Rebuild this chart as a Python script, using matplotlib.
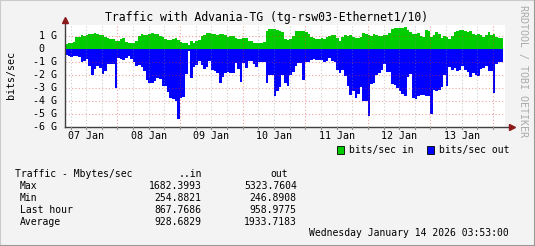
import matplotlib

matplotlib.use("Agg")
import matplotlib.pyplot as plt
import matplotlib.transforms as mtransforms
import numpy as np

# hourly samples, Gbit/s, starting 07 Jan 03:53
IN_GBPS = [
    0.36, 0.47, 0.47, 0.55, 0.95, 0.93, 1.06, 1.0, 1.05, 1.14,
    1.14, 1.25, 1.14, 1.08, 1.1, 0.93, 0.88, 0.8, 0.8, 0.62,
    0.62, 0.75, 0.85, 0.54, 0.47, 0.47, 0.47, 0.6, 1.0, 1.16,
    1.1, 1.08, 1.16, 1.24, 1.16, 1.14, 1.0, 0.93, 0.8, 0.7,
    0.7, 0.78, 0.85, 0.7, 0.54, 0.47, 0.5, 0.35, 0.62, 0.47,
    0.6, 0.7, 1.0, 1.08, 1.24, 1.24, 1.16, 1.14, 1.1, 1.16,
    1.16, 1.12, 0.93, 1.0, 1.0, 0.85, 0.78, 0.78, 0.82, 0.85,
    0.62, 0.62, 0.5, 0.47, 0.47, 0.5, 0.54, 1.4, 1.55, 1.55,
    1.55, 1.5, 1.4, 1.32, 0.78, 0.7, 0.75, 1.0, 1.4, 1.4,
    1.36, 1.4, 1.32, 1.16, 0.93, 0.85, 0.78, 0.78, 0.85, 0.78,
    0.9, 1.0, 1.08, 1.08, 0.85, 0.62, 0.93, 1.08, 1.04, 1.08,
    0.9, 0.85, 0.85, 0.95, 1.24, 1.16, 1.08, 1.0, 1.16, 1.08,
    1.0, 1.04, 1.08, 1.08, 1.24, 1.55, 1.66, 1.63, 1.63, 1.66,
    1.72, 1.5, 1.3, 1.16, 1.2, 1.25, 1.0, 0.95, 1.44, 1.4,
    0.97, 1.1, 1.3, 1.2, 0.85, 1.0, 0.95, 0.8, 1.0, 1.3,
    1.42, 1.5, 1.47, 1.4, 1.35, 1.4, 1.14, 1.1, 1.2, 1.05,
    0.95, 1.1, 1.3, 1.1, 1.2, 0.93, 0.85, 0.85,
]
OUT_GBPS = [
    0.47, 0.52, 0.6, 0.55, 0.52, 0.6, 1.0, 0.93, 0.8, 1.29,
    2.0, 1.55, 1.29, 1.5, 1.91, 1.73, 1.14, 1.14, 1.14, 3.0,
    0.7, 0.75, 0.88, 0.7, 0.55, 0.8, 1.0, 1.29, 1.2, 1.37,
    1.73, 2.4, 2.6, 2.66, 2.5, 2.22, 2.3, 2.87, 2.9, 3.3,
    3.82, 3.88, 4.05, 5.45, 3.82, 3.75, 1.91, 0.15, 2.22, 1.4,
    1.2, 0.93, 1.21, 1.55, 1.37, 0.95, 1.63, 1.73, 1.83, 2.63,
    2.14, 1.83, 1.8, 1.83, 1.83, 1.06, 1.55, 2.56, 1.1, 1.45,
    0.96, 0.96, 1.16, 1.37, 1.0, 1.0, 1.0, 2.63, 2.0, 2.0,
    3.64, 3.23, 2.97, 2.04, 2.63, 2.87, 2.0, 1.8, 1.29, 1.1,
    1.1, 2.4, 1.0, 0.97, 0.85, 0.8, 0.85, 0.87, 0.88, 0.97,
    0.9, 0.72, 0.93, 1.0, 1.63, 1.86, 1.63, 2.1, 2.9, 3.57,
    3.26, 3.77, 3.5, 2.92, 4.0, 4.0, 5.2, 2.74, 2.63, 2.0,
    1.83, 1.6, 1.16, 1.78, 1.78, 2.7, 2.8, 3.0, 3.25, 3.5,
    3.6, 2.2, 1.9, 3.8, 3.9, 3.62, 3.58, 3.56, 3.64, 3.64,
    5.0, 3.2, 3.25, 3.2, 2.95, 2.0, 2.87, 1.4, 1.6, 1.5,
    1.68, 1.6, 1.3, 1.6, 1.75, 2.15, 1.85, 2.0, 2.1, 1.55,
    1.5, 1.3, 1.68, 1.68, 3.4, 1.16, 0.98, 0.98,
]
DAY_LABELS = ["07 Jan", "08 Jan", "09 Jan", "10 Jan", "11 Jan", "12 Jan", "13 Jan"]
Y_TICKS = [1, 0, -1, -2, -3, -4, -5, -6]
STAT_ROWS = ["Max", "Min", "Last hour", "Average"]
STAT_IN = ["1682.3993", "254.8821", "867.7686", "928.6829"]
STAT_OUT = ["5323.7604", "246.8908", "958.9775", "1933.7183"]

TITLE = "Traffic with Advania-TG (tg-rsw03-Ethernet1/10)"
STAMP = "Wednesday January 14 2026 03:53:00"
START = (3 + 53 / 60) / 24  # days after 07 Jan 00:00

W, H = 535, 246
GREEN = "#00CC00"
BLUE = "#0000FF"
BACK = "#F3F3F3"
MONO = "DejaVu Sans Mono"

plt.rcParams["font.family"] = [MONO]


def fx(px):
    return px / W


def fy(py):
    return 1 - py / H


fig = plt.figure(figsize=(W / 100, H / 100), dpi=100, facecolor=BACK)
ax = fig.add_axes([fx(65), fy(126.5), fx(440), 102 / H])
ax.set_facecolor("white")

edges = START + np.arange(len(IN_GBPS) + 1) / 24
in_vals = np.append(IN_GBPS, IN_GBPS[-1])
out_vals = -np.append(OUT_GBPS, OUT_GBPS[-1])
ax.fill_between(edges, 0, in_vals, step="post", color=GREEN, lw=0, zorder=1)
ax.fill_between(edges, 0, out_vals, step="post", color=BLUE, lw=0, zorder=1)

ax.set_xlim(START, START + 440 / 62.6)
ax.set_ylim(-6, 1.9)

# grid on top of the areas, like rrdtool
for q in np.arange(0, 8.01, 0.25):
    if q < START or q > START + 7.02:
        continue
    major = abs(q - round(q)) < 1e-9
    ax.axvline(q, color="#DE3030" if major else "#8F8F8F", alpha=0.45,
               lw=0.8, dashes=(1, 2), zorder=3)
for v in Y_TICKS:
    if v != 0:
        ax.axhline(v, color="#DE3030", alpha=0.45, lw=0.8, dashes=(1, 2), zorder=3)

for s in ax.spines.values():
    s.set_visible(False)
ax.set_xticks([])
ax.set_yticks([])

# axes lines with arrows
ax.plot([0, 1.012], [0, 0], transform=ax.transAxes, color="#404040", lw=1.0,
        clip_on=False, zorder=4)
ax.plot([0, 0], [0, 1.03], transform=ax.transAxes, color="#404040", lw=1.0,
        clip_on=False, zorder=4)
ax.plot([1.015], [0], transform=ax.transAxes, marker=">", ms=4, color="#8B1A1A",
        clip_on=False, zorder=5)
ax.plot([0], [1.04], transform=ax.transAxes, marker="^", ms=4, color="#8B1A1A",
        clip_on=False, zorder=5)

# small ticks under the x axis
for q in np.arange(0, 8.01, 0.25):
    if START <= q <= START + 7.02:
        ax.plot([q, q], [-6, -6.2], color="#8F8F8F", lw=0.8, clip_on=False, zorder=4)

ybt = mtransforms.blended_transform_factory(ax.transAxes, ax.transData)
for v in Y_TICKS:
    label = f"{v} G" if v != 0 else "0"
    off = -8 / 100 if v != 0 else -20.6 / 100
    tr = ybt + mtransforms.ScaledTranslation(off, 0, fig.dpi_scale_trans)
    ax.text(0, v, label, transform=tr, ha="right", va="center", fontsize=7.2)

xbt = mtransforms.blended_transform_factory(ax.transData, ax.transAxes)
for k, lab in enumerate(DAY_LABELS):
    ax.text(k + 0.5, -0.09, lab, transform=xbt, ha="center", va="center",
            fontsize=7.2)

fig.text(fx(266.5), fy(17), TITLE, ha="center", va="center", fontsize=8.3)
fig.text(fx(11), fy(75), "bits/sec", rotation=90, ha="center", va="center",
         fontsize=7.2)
fig.text(fx(523), fy(71), "RRDTOOL / TOBI OETIKER", rotation=270, ha="center",
         va="center", fontsize=7.2, color="#AAAAAA")

# legend
for x0, col, lab in ((337, GREEN, "bits/sec in"), (427, BLUE, "bits/sec out")):
    fig.patches.append(plt.Rectangle((fx(x0), fy(154)), fx(7), 8 / H,
                                     facecolor=col, edgecolor="black", lw=0.6,
                                     transform=fig.transFigure))
    fig.text(fx(x0 + 12), fy(150), lab, ha="left", va="center", fontsize=7)

# statistics block
fig.text(fx(15), fy(174), "Traffic - Mbytes/sec", ha="left", va="center", fontsize=7)
fig.text(fx(201.7), fy(174), "..in", ha="right", va="center", fontsize=7)
fig.text(fx(288.3), fy(174), "out", ha="right", va="center", fontsize=7)
for k, name in enumerate(STAT_ROWS):
    yy = fy(185.7 + 12 * k)
    fig.text(fx(20), yy, name, ha="left", va="center", fontsize=7)
    fig.text(fx(201.7), yy, STAT_IN[k], ha="right", va="center", fontsize=7)
    fig.text(fx(296.7), yy, STAT_OUT[k], ha="right", va="center", fontsize=7)
fig.text(fx(509), fy(233.3), STAMP, ha="right", va="center", fontsize=7)

# shaded frame
fig.add_artist(plt.Line2D([0, 0], [0, 1], color="#CBCBCB", lw=1.5, transform=fig.transFigure))
fig.add_artist(plt.Line2D([0, 1], [1, 1], color="#CBCBCB", lw=1.5, transform=fig.transFigure))
fig.add_artist(plt.Line2D([1, 1], [0, 1], color="#999999", lw=1.5, transform=fig.transFigure))
fig.add_artist(plt.Line2D([0, 1], [0, 0], color="#999999", lw=1.5, transform=fig.transFigure))

fig.savefig("out.png", dpi=100, facecolor=BACK)
